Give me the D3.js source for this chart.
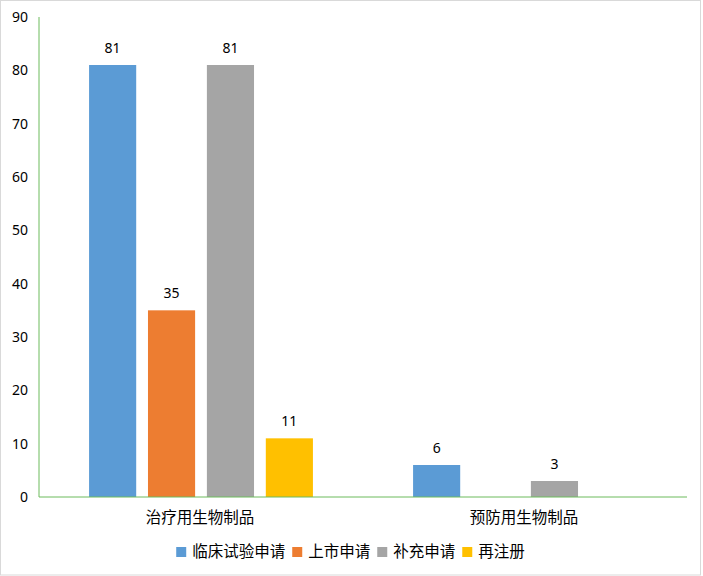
<!DOCTYPE html>
<html>
<head>
<meta charset="utf-8">
<script src="https://cdn.jsdelivr.net/npm/d3@7"></script>
<style>
  body { margin: 0; background: #fff; }
  text { font-family: "Noto Sans CJK SC", "Noto Sans", sans-serif; fill: #000; }
  .num { font-family: "Noto Sans", "DejaVu Sans", sans-serif; font-size: 14px; }
</style>
</head>
<body>
<div id="chart"></div>
<script>
var categories = ['治疗用生物制品', '预防用生物制品'];
var seriesNames = ['临床试验申请', '上市申请', '补充申请', '再注册'];
var seriesColors = ['#5b9bd5', '#ed7d31', '#a5a5a5', '#ffc000'];
// null = no bar in that group
var clinical = [81, 6];
var market = [35, null];
var supplement = [81, 3];
var reregister = [11, null];
var yTicks = [0, 10, 20, 30, 40, 50, 60, 70, 80, 90];

var seriesValues = [clinical, market, supplement, reregister];

var width = 703, height = 576;
var margin = {left: 39, right: 16, top: 17, bottom: 79};

var svg = d3.select('#chart').append('svg')
  .attr('width', width)
  .attr('height', height);

// outer chart border
svg.append('rect')
  .attr('x', 0.5).attr('y', 0.5)
  .attr('width', width - 3).attr('height', height - 1.5)
  .attr('fill', '#fff')
  .attr('stroke', '#d9d9d9');

var x0 = d3.scaleBand()
  .domain(categories)
  .range([margin.left, width - margin.right]);

var x1 = d3.scaleBand()
  .domain(seriesNames)
  .range([0, x0.bandwidth()])
  .paddingInner(0.2)
  .paddingOuter(0.85);

var y = d3.scaleLinear()
  .domain([0, 90])
  .range([height - margin.bottom, margin.top]);

// y tick labels
svg.append('g').selectAll('text')
  .data(yTicks)
  .enter().append('text')
  .attr('class', 'num')
  .attr('x', 28)
  .attr('y', function(d) { return y(d); })
  .attr('dy', '0.35em')
  .attr('text-anchor', 'end')
  .text(function(d) { return d; });

// bars
var bars = [];
categories.forEach(function(c, ci) {
  seriesNames.forEach(function(s, si) {
    var v = seriesValues[si][ci];
    if (v != null) bars.push({cat: c, series: s, value: v, color: seriesColors[si]});
  });
});

svg.append('g').selectAll('rect')
  .data(bars)
  .enter().append('rect')
  .attr('x', function(d) { return x0(d.cat) + x1(d.series); })
  .attr('y', function(d) { return y(d.value); })
  .attr('width', x1.bandwidth())
  .attr('height', function(d) { return y(0) - y(d.value); })
  .style('fill', function(d) { return d.color; });

svg.append('g').selectAll('text')
  .data(bars)
  .enter().append('text')
  .attr('class', 'num')
  .attr('x', function(d) { return x0(d.cat) + x1(d.series) + x1.bandwidth() / 2; })
  .attr('y', function(d) { return y(d.value) - 12; })
  .attr('text-anchor', 'middle')
  .text(function(d) { return d.value; });

// axes lines (green)
svg.append('line')
  .attr('x1', margin.left).attr('x2', margin.left)
  .attr('y1', y(90)).attr('y2', y(0))
  .style('stroke', '#6cbb5c').style('stroke-width', 1);
svg.append('line')
  .attr('x1', margin.left).attr('x2', width - margin.right)
  .attr('y1', y(0)).attr('y2', y(0))
  .style('stroke', '#6cbb5c').style('stroke-width', 1);

// category labels
svg.append('g').selectAll('text')
  .data(categories)
  .enter().append('text')
  .attr('x', function(d) { return x0(d) + x0.bandwidth() / 2 - 1; })
  .attr('y', 518)
  .attr('dy', '0.35em')
  .attr('text-anchor', 'middle')
  .style('font-size', '15.5px')
  .text(function(d) { return d; });

// legend, centred under the plot
var legend = svg.append('g');
var items = legend.selectAll('g')
  .data(seriesNames)
  .enter().append('g');
items.append('rect')
  .attr('width', 10).attr('height', 10)
  .attr('y', -5)
  .style('fill', function(d, i) { return seriesColors[i]; });
items.append('text')
  .attr('x', 16)
  .attr('dy', '0.35em')
  .style('font-size', '15.5px')
  .text(function(d) { return d; });

var pos = 0;
items.each(function() {
  var w = d3.select(this).select('text').node().getComputedTextLength();
  d3.select(this).attr('transform', 'translate(' + pos + ',0)');
  pos += 16 + w + 7;
});
pos -= 7;
legend.attr('transform', 'translate(' + ((width - 2) / 2 - pos / 2) + ',552)');
</script>
</body>
</html>
